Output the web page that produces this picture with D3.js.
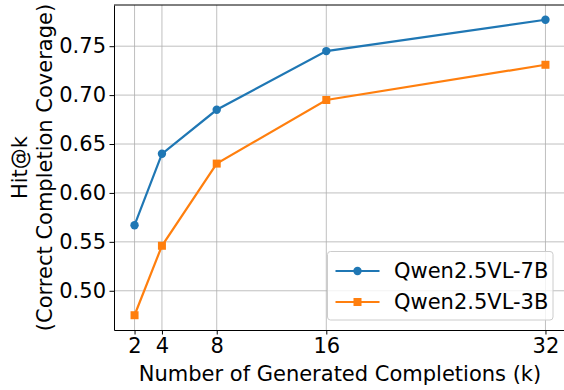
<!DOCTYPE html>
<html>
<head>
<meta charset="utf-8">
<script src="https://cdn.jsdelivr.net/npm/d3@7"></script>
<style>
  body { margin: 0; background: #fff; }
  text { font-family: "DejaVu Sans", sans-serif; fill: #000; }
</style>
</head>
<body>
<div id="chart-area"></div>
<script>
const ks = [2, 4, 8, 16, 32];
const qwen7b = [0.567, 0.640, 0.685, 0.745, 0.777];
const qwen3b = [0.475, 0.546, 0.630, 0.695, 0.731];
const seriesNames = ["Qwen2.5VL-7B", "Qwen2.5VL-3B"];
const yTicks = [0.50, 0.55, 0.60, 0.65, 0.70, 0.75];

const W = 564, H = 390;
const margin = { left: 114, right: -2, top: 5, bottom: 60 };
const width = W - margin.left - margin.right,
      height = H - margin.top - margin.bottom;
const fs = "21px";

const svg = d3.select("#chart-area").append("svg")
    .attr("width", W).attr("height", H);

const g = svg.append("g")
    .attr("transform", `translate(${margin.left}, ${margin.top})`);

const x = d3.scaleLinear().domain([0.5, 33.5]).range([0, width]);
const y = d3.scaleLinear().domain([0.4599, 0.7921]).range([height, 0]);

// grid
g.append("g").selectAll("line").data(ks).enter().append("line")
    .attr("x1", d => x(d)).attr("x2", d => x(d))
    .attr("y1", 0).attr("y2", height)
    .attr("stroke", "#b0b0b0").attr("stroke-width", 0.8);
g.append("g").selectAll("line").data(yTicks).enter().append("line")
    .attr("y1", d => y(d)).attr("y2", d => y(d))
    .attr("x1", 0).attr("x2", width)
    .attr("stroke", "#b0b0b0").attr("stroke-width", 0.8);

// axes
const xAxis = g.append("g")
    .attr("transform", `translate(0, ${height})`)
    .call(d3.axisBottom(x).tickValues(ks).tickSize(4.5).tickPadding(3.5).tickSizeOuter(0));
const yAxis = g.append("g")
    .call(d3.axisLeft(y).tickValues(yTicks).tickFormat(d3.format(".2f")).tickSize(4.5).tickPadding(3.5).tickSizeOuter(0));
[xAxis, yAxis].forEach(a => {
  a.selectAll("text").attr("font-size", fs).style("font-family", "DejaVu Sans");
  a.selectAll("line").attr("stroke", "#000").attr("stroke-width", 1);
  a.select(".domain").attr("stroke", "#000").attr("stroke-width", 1);
});

// top and right spines
g.append("line").attr("x1", 0).attr("x2", width).attr("y1", 0).attr("y2", 0)
    .attr("stroke", "#000").attr("stroke-width", 1);
g.append("line").attr("x1", width).attr("x2", width).attr("y1", 0).attr("y2", height)
    .attr("stroke", "#000").attr("stroke-width", 1);

// lines
const colors = ["#1f77b4", "#ff7f0e"];
const allSeries = [qwen7b, qwen3b];
const line = d3.line().x((d, i) => x(ks[i])).y(d => y(d));

allSeries.forEach((vals, s) => {
  g.append("path").datum(vals)
      .attr("d", line)
      .attr("fill", "none")
      .attr("stroke", colors[s])
      .attr("stroke-width", 2.2);
  if (s === 0) {
    g.selectAll(".m0").data(vals).enter().append("circle")
        .attr("cx", (d, i) => x(ks[i])).attr("cy", d => y(d))
        .attr("r", 4.2).attr("fill", colors[s]);
  } else {
    g.selectAll(".m1").data(vals).enter().append("rect")
        .attr("x", (d, i) => x(ks[i]) - 4).attr("y", d => y(d) - 4)
        .attr("width", 8).attr("height", 8).attr("fill", colors[s]);
  }
});

// x label
svg.append("text")
    .attr("x", margin.left + x(17))
    .attr("y", 381)
    .attr("font-size", fs)
    .attr("text-anchor", "middle")
    .text("Number of Generated Completions (k)");

// y label
const yl = svg.append("text")
    .attr("transform", `translate(0, ${margin.top + height / 2}) rotate(-90)`)
    .attr("font-size", fs)
    .attr("text-anchor", "middle");
yl.append("tspan").attr("x", 0).attr("y", 27).text("Hit@k");
yl.append("tspan").attr("x", 0).attr("y", 52).text("(Correct Completion Coverage)");

// legend
const lg = svg.append("g").attr("transform", "translate(327.5, 251.5)");
lg.append("rect")
    .attr("width", 225.5).attr("height", 68.5)
    .attr("rx", 3)
    .attr("fill", "#fff").attr("fill-opacity", 0.8)
    .attr("stroke", "#cccccc").attr("stroke-width", 1);
seriesNames.forEach((name, s) => {
  const cy = 19.5 + s * 31;
  lg.append("line").attr("x1", 8).attr("x2", 52).attr("y1", cy).attr("y2", cy)
      .attr("stroke", colors[s]).attr("stroke-width", 2.2);
  if (s === 0) {
    lg.append("circle").attr("cx", 30).attr("cy", cy).attr("r", 4.2).attr("fill", colors[s]);
  } else {
    lg.append("rect").attr("x", 26).attr("y", cy - 4).attr("width", 8).attr("height", 8).attr("fill", colors[s]);
  }
  lg.append("text").attr("x", 66.5).attr("y", cy).attr("dy", "0.35em")
      .attr("font-size", fs).text(name);
});
</script>
</body>
</html>
